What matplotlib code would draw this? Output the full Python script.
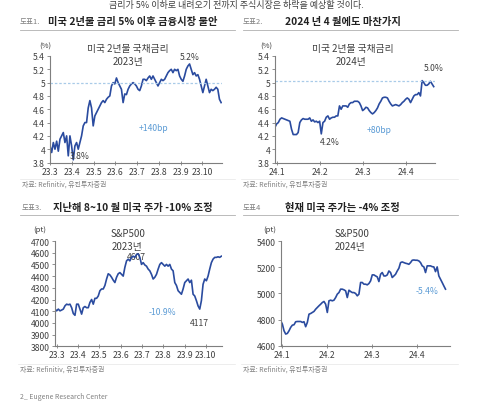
import numpy as np
import matplotlib
matplotlib.use("Agg")
import matplotlib.pyplot as plt

plt.rcParams['font.family'] = ['Noto Sans CJK KR', 'DejaVu Sans']

# ---- data ----
# US 2y yield 2023 (%), months since 23.3
y23_start, y23_end = 0.0, 7.86
y23 = [4.05, 3.95, 4.10, 4.00, 4.12, 3.97, 4.15, 4.20, 4.25, 4.10, 4.20, 3.90, 4.20,
       4.05, 3.84, 4.05, 4.10, 4.00, 4.10, 4.20, 4.35, 4.40, 4.40, 4.62, 4.73, 4.62,
       4.35, 4.50, 4.55, 4.60, 4.65, 4.70, 4.73, 4.70, 4.75, 4.78, 4.80, 4.95, 5.00,
       4.98, 5.07, 5.00, 4.95, 4.90, 4.70, 4.83, 4.82, 4.90, 4.95, 4.98, 5.00, 4.98,
       4.95, 4.90, 4.88, 4.95, 5.05, 5.05, 5.03, 5.07, 5.10, 5.05, 5.10, 5.05, 5.00,
       4.95, 5.00, 5.05, 5.03, 5.05, 5.10, 5.15, 5.18, 5.20, 5.15, 5.20, 5.18, 5.20,
       5.10, 5.05, 5.02, 5.10, 5.20, 5.25, 5.28, 5.20, 5.12, 5.15, 5.10, 5.12, 5.05,
       4.95, 4.85, 4.95, 5.05, 4.95, 4.85, 4.90, 4.88, 4.90, 4.93, 4.90, 4.75, 4.70]

# US 2y yield 2024 (%), months since 24.1
y24_start, y24_end = -0.04, 3.63
y24 = [4.33, 4.38, 4.40, 4.45, 4.47, 4.46, 4.45, 4.44, 4.43, 4.42, 4.30, 4.22, 4.22,
       4.22, 4.25, 4.40, 4.44, 4.46, 4.45, 4.45, 4.45, 4.47, 4.42, 4.44, 4.41, 4.42,
       4.40, 4.42, 4.23, 4.40, 4.42, 4.48, 4.50, 4.45, 4.47, 4.48, 4.48, 4.50, 4.50,
       4.65, 4.60, 4.65, 4.65, 4.65, 4.63, 4.68, 4.70, 4.70, 4.72, 4.72, 4.72, 4.70,
       4.65, 4.58, 4.60, 4.63, 4.62, 4.58, 4.55, 4.53, 4.55, 4.58, 4.62, 4.68, 4.72,
       4.77, 4.78, 4.78, 4.77, 4.72, 4.68, 4.65, 4.66, 4.67, 4.66, 4.65, 4.67, 4.70,
       4.72, 4.75, 4.77, 4.75, 4.70, 4.75, 4.80, 4.82, 4.82, 4.85, 4.80, 5.03, 5.00,
       4.96, 4.96, 4.98, 5.02, 4.98, 4.94]

# S&P500 2023 (pt)
s23_start, s23_end = -0.09, 7.73
s23 = [4118, 4103, 4118, 4103, 4110, 4118, 4146, 4160, 4155, 4160, 4130, 4080, 4065,
       4160, 4160, 4118, 4075, 4130, 4140, 4130, 4130, 4175, 4200, 4160, 4210, 4210,
       4230, 4275, 4290, 4290, 4320, 4375, 4420, 4410, 4390, 4365, 4345, 4390, 4420,
       4430, 4415, 4400, 4475, 4530, 4545, 4530, 4560, 4570, 4560, 4585, 4590, 4560,
       4500, 4515, 4495, 4485, 4460, 4445, 4415, 4375, 4390, 4415, 4460, 4500, 4515,
       4500, 4485, 4500, 4485, 4500, 4460, 4445, 4345, 4320, 4275, 4260, 4245, 4290,
       4345, 4360, 4375, 4345, 4365, 4245, 4230, 4190, 4145, 4118, 4190, 4330, 4375,
       4360, 4400, 4460, 4515, 4545, 4560, 4560, 4565, 4560, 4570]

# S&P500 2024 (pt)
s24_start, s24_end = -0.02, 3.64
s24 = [4790, 4765, 4714, 4689, 4694, 4714, 4740, 4757, 4760, 4783, 4785, 4785, 4785,
       4778, 4783, 4745, 4778, 4841, 4846, 4854, 4862, 4879, 4892, 4905, 4917, 4930,
       4938, 4917, 4854, 4943, 4948, 4943, 4948, 4968, 4994, 5006, 5032, 5032, 5027,
       5019, 4968, 5024, 5014, 5006, 5006, 4999, 4981, 4994, 5083, 5083, 5070, 5070,
       5065, 5075, 5095, 5141, 5141, 5133, 5126, 5090, 5146, 5159, 5133, 5133, 5141,
       5171, 5159, 5121, 5133, 5146, 5171, 5192, 5235, 5240, 5235, 5230, 5227, 5222,
       5235, 5253, 5255, 5253, 5253, 5248, 5235, 5210, 5202, 5159, 5210, 5210, 5210,
       5204, 5202, 5166, 5202, 5133, 5108, 5083, 5057, 5032]

labels23 = ['23.3', '23.4', '23.5', '23.6', '23.7', '23.8', '23.9', '23.10']
labels24 = ['24.1', '24.2', '24.3', '24.4']

LINE = '#2a4b9f'
LIGHT = '#5b9bd5'
DOT = '#a9cbe8'
TXT = '#404040'
GRAY = '#808080'

W, H = 500, 414
fig = plt.figure(figsize=(5, 4.14), dpi=100)


def box(l, t, r, b):
    return [l / W, 1 - b / H, (r - l) / W, (b - t) / H]


def fx(px):
    return px / W


def fy(py):
    return 1 - py / H


def style(ax, xlim, ylim, yticks, ntick, labels):
    ax.set_xlim(*xlim)
    ax.set_ylim(*ylim)
    ax.set_yticks(yticks)
    ax.set_yticklabels(['%g' % v for v in yticks])
    ax.set_xticks(range(ntick))
    ax.set_xticklabels(labels)
    for s in ['top', 'right']:
        ax.spines[s].set_visible(False)
    for s in ['left', 'bottom']:
        ax.spines[s].set_color('#7f7f7f')
        ax.spines[s].set_linewidth(0.8)
    ax.tick_params(axis='both', labelsize=6.2, colors='#7f7f7f', labelcolor=TXT,
                   length=2, width=0.6, pad=1.5)
    ax.tick_params(axis='x', direction='inout', length=3)
    ax.set_facecolor('none')


# panel 1
ax1 = fig.add_axes(box(50, 57, 222, 163.5))
ax1.plot(np.linspace(y23_start, y23_end, len(y23)), y23, color=LINE, lw=1.2)
ax1.axhline(5.0, color=DOT, lw=0.9, ls=(0, (2, 1.5)))
style(ax1, (0, 7.9), (3.8, 5.4), np.round(np.arange(3.8, 5.41, 0.2), 1), 8, labels23)
ax1.text(-0.23, 5.55, '(%)', fontsize=5.5, color=TXT, ha='center', va='center', clip_on=False)
ax1.text(3.59, 5.524, '미국 2년물 국채금리', fontsize=7, color=TXT, ha='center', va='center')
ax1.text(3.59, 5.325, '2023년', fontsize=7, color=TXT, ha='center', va='center')
ax1.text(6.41, 5.385, '5.2%', fontsize=6.2, color=TXT, ha='center', va='center')
ax1.text(1.37, 3.90, '3.8%', fontsize=6.2, color=TXT, ha='center', va='center')
ax1.text(4.73, 4.33, '+140bp', fontsize=6.2, color=LIGHT, ha='center', va='center')

# panel 2
ax2 = fig.add_axes(box(275, 57, 435, 163.5))
ax2.plot(np.linspace(y24_start, y24_end, len(y24)), y24, color=LINE, lw=1.2)
ax2.axhline(5.02, color=DOT, lw=0.9, ls=(0, (2, 1.5)))
style(ax2, (-0.04, 3.66), (3.8, 5.4), np.round(np.arange(3.8, 5.41, 0.2), 1), 4, labels24)
ax2.text(-0.23, 5.55, '(%)', fontsize=5.5, color=TXT, ha='center', va='center', clip_on=False)
ax2.text(1.76, 5.524, '미국 2년물 국채금리', fontsize=7, color=TXT, ha='center', va='center')
ax2.text(1.72, 5.325, '2024년', fontsize=7, color=TXT, ha='center', va='center')
ax2.text(3.63, 5.226, '5.0%', fontsize=6.2, color=TXT, ha='center', va='center')
ax2.text(1.22, 4.12, '4.2%', fontsize=6.2, color=TXT, ha='center', va='center')
ax2.text(2.37, 4.29, '+80bp', fontsize=6.2, color=LIGHT, ha='center', va='center')

# panel 3
ax3 = fig.add_axes(box(55, 242, 222, 347.3))
ax3.plot(np.linspace(s23_start, s23_end, len(s23)), s23, color=LINE, lw=1.2)
style(ax3, (-0.09, 7.76), (3800, 4700), np.arange(3800, 4701, 100), 8, labels23)
ax3.text(-0.8, 4799, '(pt)', fontsize=5.5, color=TXT, ha='center', va='center', clip_on=False)
ax3.text(3.35, 4771, 'S&P500', fontsize=7, color=TXT, ha='center', va='center', clip_on=False)
ax3.text(3.30, 4657, '2023년', fontsize=7, color=TXT, ha='center', va='center')
ax3.text(3.74, 4564, '4607', fontsize=6.2, color=TXT, ha='center', va='center', zorder=1)
ax3.text(4.94, 4098, '-10.9%', fontsize=6.2, color=LIGHT, ha='center', va='center')
ax3.text(6.71, 4004, '4117', fontsize=6.2, color=TXT, ha='center', va='center')

# panel 4
ax4 = fig.add_axes(box(280.7, 242, 450, 346.7))
ax4.plot(np.linspace(s24_start, s24_end, len(s24)), s24, color=LINE, lw=1.2)
style(ax4, (-0.02, 3.74), (4600, 5400), np.arange(4600, 5401, 200), 4, labels24)
ax4.text(-0.26, 5489, '(pt)', fontsize=5.5, color=TXT, ha='center', va='center', clip_on=False)
ax4.text(1.556, 5464, 'S&P500', fontsize=7, color=TXT, ha='center', va='center', clip_on=False)
ax4.text(1.52, 5362, '2024년', fontsize=7, color=TXT, ha='center', va='center')
ax4.text(3.24, 5019, '-5.4%', fontsize=6.2, color=LIGHT, ha='center', va='center')

# headings, rules and sources
heads = [(20, 48, 22.5, '도표1.', '미국 2년물 금리 5% 이후 금융시장 불안', 20, 235, 31),
         (243, 285, 22.5, '도표2.', '2024 년 4 월에도 마찬가지', 243, 458, 31),
         (22, 53, 208, '도표3.', '지난해 8~10 월 미국 주가 -10% 조정', 20, 235, 216),
         (243, 285, 208, '도표4', '현재 미국 주가는 -4% 조정', 243, 458, 216)]
for x0, x1, yy, tag, title, l0, l1, ly in heads:
    fig.text(fx(x0), fy(yy), tag, fontsize=5.5, color=GRAY, va='center')
    fig.text(fx(x1), fy(yy), title, fontsize=7.4, color='#222222', weight='bold', va='center')
    fig.add_artist(plt.Line2D([fx(l0), fx(l1)], [fy(ly), fy(ly)], color='#b0b0b0', lw=0.6))

for x0, yy, l1 in [(22, 185, 235), (243, 185, 458), (20, 370, 235), (243, 370, 458)]:
    fig.add_artist(plt.Line2D([fx(x0 - 2), fx(l1)], [fy(yy - 5), fy(yy - 5)], color='#e6e6e6', lw=0.5))
    fig.text(fx(x0), fy(yy), '자료: Refinitiv, 유진투자증권', fontsize=5, color=GRAY, va='center')

fig.text(fx(20), fy(397), '2_ Eugene Research Center', fontsize=5, color=GRAY, va='center')
fig.text(fx(236), fy(5.5), '금리가 5% 이하로 내려오기 전까지 주식시장은 하락을 예상할 것이다.', fontsize=6.5,
         color=TXT, ha='center', va='center')

fig.savefig('out.png', dpi=100)
